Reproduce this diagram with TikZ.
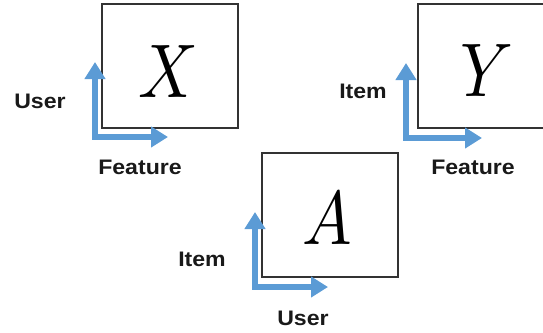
\documentclass[tikz,border=0pt]{standalone}
\usepackage{fontspec}
\setsansfont{Liberation Sans}
\usetikzlibrary{arrows.meta}
\definecolor{axisblue}{HTML}{5B9BD5}
\newcommand{\bigsym}[1]{\scalebox{6.6}[7.6]{$#1$}}
\begin{document}
\begin{tikzpicture}[x=1pt,y=-1pt,
  mat/.style={draw=black!80,line width=1.1pt},
  axis/.style={axisblue,line width=6pt,{Triangle[width=20pt,length=17pt]}-{Triangle[width=20pt,length=17pt]}},
  lbl/.style={font=\sffamily\bfseries\fontsize{21}{21}\selectfont,text=black!90,inner sep=0pt},
  sym/.style={inner sep=0pt}]
\useasboundingbox (0,0) rectangle (543,332);
\clip (0,0) rectangle (543,332);
% X
\draw[mat] (102,4) rectangle (238,128);
\node[sym] (x) at (168,72) {\bigsym{X}};
\coordinate (xt) at (95,62);
\coordinate (xc) at (95,137);
\coordinate (xr) at (168,137);
\draw[axis] (xt) -- (xc) -- (xr);
\node[lbl] (xu) at (40,101) {\scalebox{1.1}[1]{User}};
\node[lbl] (xf) at (140,167) {\scalebox{1.1}[1]{Feature}};
% Y
\draw[mat] (418,4) rectangle (560,128);
\node[sym] (y) at (487,71) {\bigsym{Y}};
\coordinate (yt) at (406,63);
\coordinate (yc) at (406,138);
\coordinate (yr) at (482,138);
\draw[axis] (yt) -- (yc) -- (yr);
\node[lbl] (yi) at (363,91) {\scalebox{1.1}[1]{Item}};
\node[lbl] (yf) at (473,167) {\scalebox{1.1}[1]{Feature}};
% A
\draw[mat] (262,153) rectangle (398,277);
\node[sym] (a) at (327,219) {\bigsym{A}};
\coordinate (at) at (255,212);
\coordinate (ac) at (255,287);
\coordinate (ar) at (328,287);
\draw[axis] (at) -- (ac) -- (ar);
\node[lbl] (ai) at (202,259) {\scalebox{1.1}[1]{Item}};
\node[lbl] (au) at (303,318) {\scalebox{1.1}[1]{User}};
\end{tikzpicture}
\end{document}
